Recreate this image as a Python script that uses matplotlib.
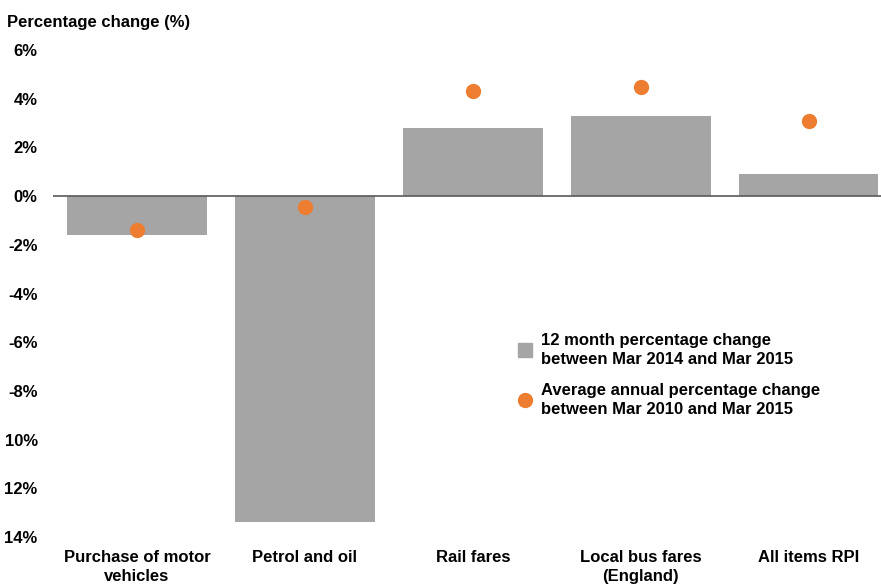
import matplotlib.pyplot as plt
from matplotlib.lines import Line2D

categories = ['Purchase of motor\nvehicles', 'Petrol and oil', 'Rail fares',
              'Local bus fares\n(England)', 'All items RPI']
change_12m = [-1.6, -13.4, 2.8, 3.3, 0.9]
change_avg = [-1.4, -0.45, 4.3, 4.5, 3.1]
tick_values = [6, 4, 2, 0, -2, -4, -6, -8, -10, -12, -14]
tick_labels = ['6%', '4%', '2%', '0%', '-2%', '-4%', '-6%', '-8%', '10%', '12%', '14%']

GREY = '#a5a5a5'
ORANGE = '#ed7d31'

plt.rcParams['font.family'] = ['Liberation Sans', 'DejaVu Sans']
plt.rcParams['font.weight'] = 'bold'

fig = plt.figure(figsize=(8.81, 5.86), dpi=100)
ax = fig.add_axes([53 / 881, 1 - 537 / 586, (881 - 53) / 881, 487 / 586])

x = list(range(len(categories)))
ax.bar(x, change_12m, width=0.83, color=GREY, zorder=2)
ax.plot(x, change_avg, 'o', color=ORANGE, markersize=10, zorder=3)
ax.axhline(0, color='#595959', linewidth=1.2, zorder=4)

ax.set_xlim(-0.5, 4.43)
ax.set_ylim(-14, 6)
ax.set_yticks(tick_values)
ax.set_yticklabels(tick_labels, fontsize=12, fontweight='bold')
ax.set_xticks(x)
ax.set_xticklabels(categories, fontsize=12, fontweight='bold', linespacing=1.4)
ax.tick_params(length=0, axis='y', pad=11)
ax.tick_params(length=0, axis='x', pad=9)
for side in ['top', 'right', 'left', 'bottom']:
    ax.spines[side].set_visible(False)

fig.text(7 / 881, 1 - 22 / 586, 'Percentage change (%)', fontsize=12,
         fontweight='bold', va='center', ha='left')

handles = [
    Line2D([], [], marker='s', linestyle='none', color=GREY, markersize=10),
    Line2D([], [], marker='o', linestyle='none', color=ORANGE, markersize=10),
]
labels = ['12 month percentage change\nbetween Mar 2014 and Mar 2015',
          'Average annual percentage change\nbetween Mar 2010 and Mar 2015']
leg = fig.legend(handles, labels, loc='upper left',
                 bbox_to_anchor=(500 / 881, 1 - 318 / 586),
                 frameon=False, prop={'size': 12, 'weight': 'bold'},
                 handletextpad=0.35, labelspacing=1.0, handlelength=1.2)
for t in leg.get_texts():
    t.set_linespacing(1.3)

fig.savefig('out.png', dpi=100)
